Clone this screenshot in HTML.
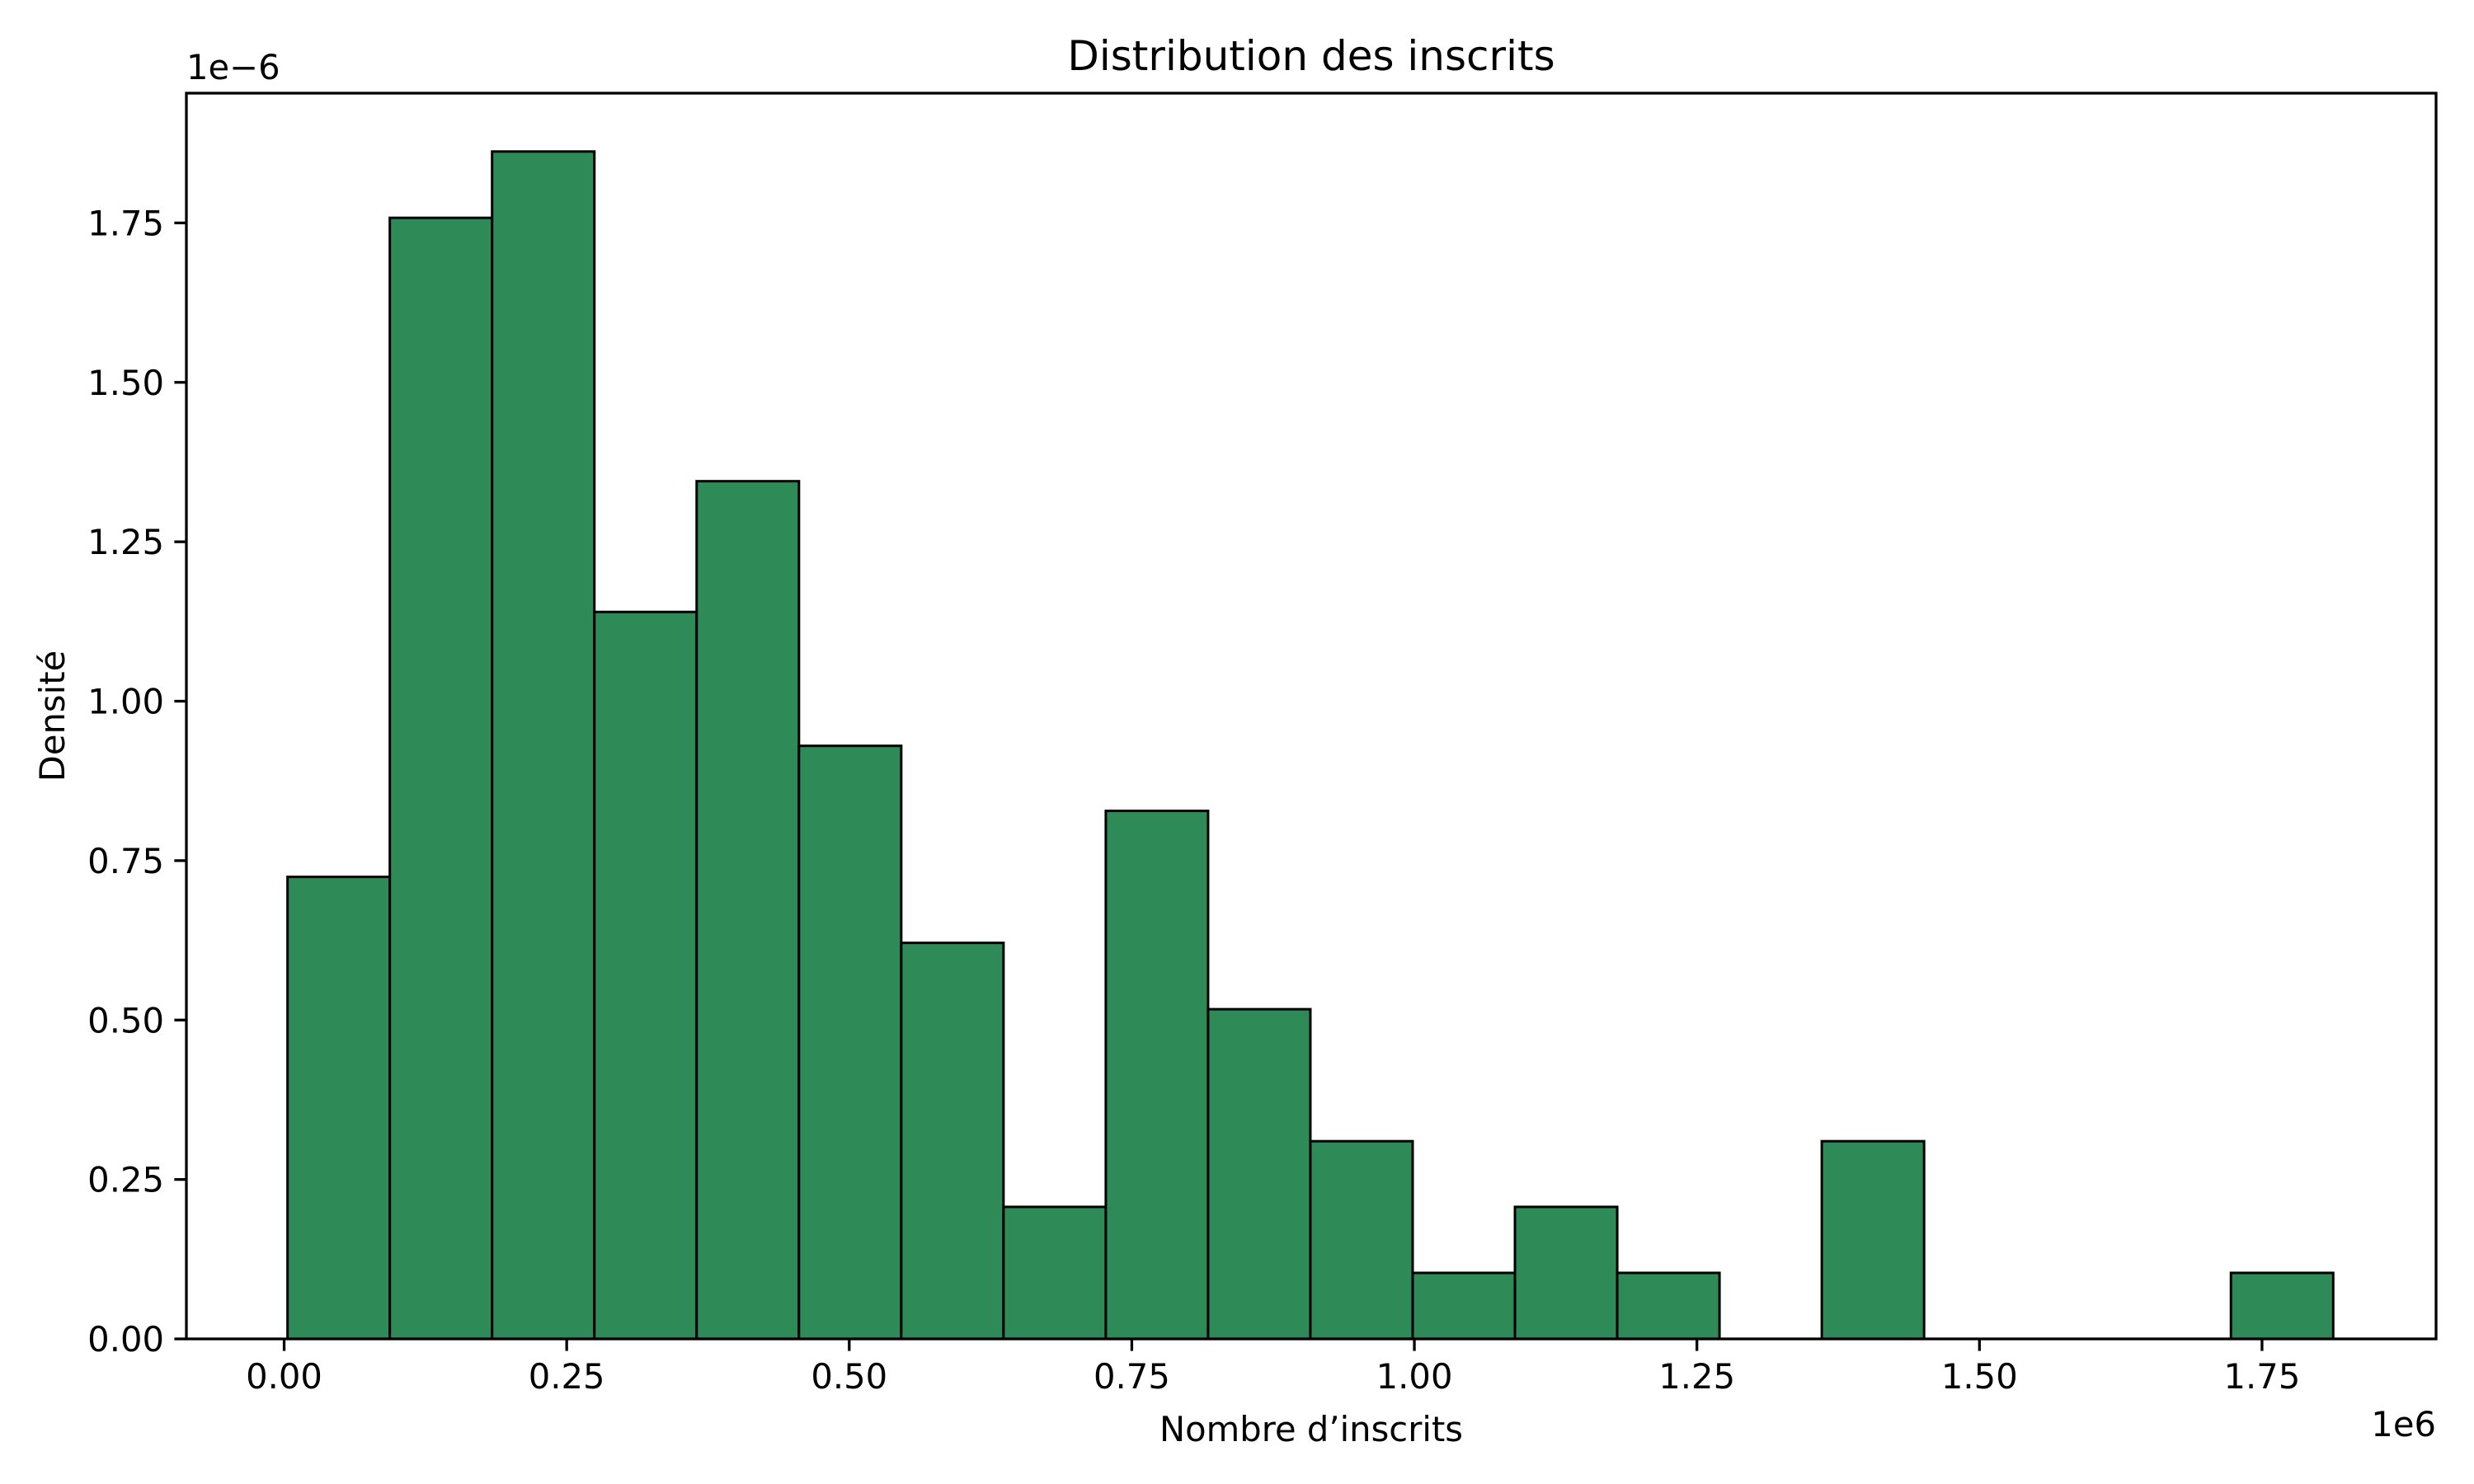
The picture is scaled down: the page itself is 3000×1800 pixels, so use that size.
<!DOCTYPE html>
<html><head><meta charset="utf-8"><style>
html,body{margin:0;padding:0;background:#fff;width:3000px;height:1800px;overflow:hidden}
svg{display:block;font-family:"DejaVu Sans","Liberation Sans",sans-serif}
</style></head><body>
<svg id="chart" width="3000" height="1800" viewBox="0 0 3000 1800" xmlns="http://www.w3.org/2000/svg"></svg>
<script>
const binStart = 0.003;
const binWidth = 0.0905;
const densities = [0.7245,1.758,1.862,1.140,1.345,0.930,0.621,0.207,0.828,0.517,0.310,0.1035,0.207,0.1035,0,0.310,0,0,0,0.1035];
const xTicks = [0,0.25,0.5,0.75,1.0,1.25,1.5,1.75];
const xTickLabels = ["0.00","0.25","0.50","0.75","1.00","1.25","1.50","1.75"];
const yTicks = [0,0.25,0.5,0.75,1.0,1.25,1.5,1.75];
const yTickLabels = ["0.00","0.25","0.50","0.75","1.00","1.25","1.50","1.75"];

const L=226,R=2954,T=113,B=1624;
const xMin=-0.0865,xMax=1.904,yMin=0,yMax=1.9535;
const sx=v=>L+(v-xMin)/(xMax-xMin)*(R-L);
const sy=v=>B-(v-yMin)/(yMax-yMin)*(B-T);
const svg=document.getElementById('chart');
const NS='http://www.w3.org/2000/svg';
function mk(tag,attrs,parent){const e=document.createElementNS(NS,tag);for(const k in attrs)e.setAttribute(k,attrs[k]);(parent||svg).appendChild(e);return e;}
function txt(s,attrs){const e=mk('text',attrs);e.textContent=s;return e;}

densities.forEach((d,i)=>{
  const x0=sx(binStart+i*binWidth),x1=sx(binStart+(i+1)*binWidth);
  const r=mk('rect',{x:x0,y:sy(d),width:x1-x0,height:sy(0)-sy(d),fill:'#2e8b57',stroke:'#000','stroke-width':3});
  
  
});
const frame=mk('rect',{x:L,y:T,width:R-L,height:B-T,fill:'none',stroke:'#000','stroke-width':3.3});



xTicks.forEach((v,i)=>{
  const x=sx(v);
  const t=mk('line',{x1:x,x2:x,y1:B,y2:B+14.6,stroke:'#000','stroke-width':3.3});
  
  
  const l=txt(xTickLabels[i],{x:x,y:B+60,'font-size':41.7,'text-anchor':'middle'});
  
  
});
yTicks.forEach((v,i)=>{
  const y=sy(v);
  const t=mk('line',{x1:L-14.6,x2:L,y1:y,y2:y,stroke:'#000','stroke-width':3.3});
  
  
  const l=txt(yTickLabels[i],{x:L-27,y:y+15,'font-size':41.7,'text-anchor':'end'});
  
  
});
const title=txt('Distribution des inscrits',{x:(L+R)/2,y:85,'font-size':50,'text-anchor':'middle'});


const xl=txt('Nombre d\u2019inscrits',{x:(L+R)/2,y:1748,'font-size':41.7,'text-anchor':'middle'});


const yl=txt('Densit\u00e9',{x:0,y:0,'font-size':41.7,'text-anchor':'middle',transform:'translate(78,' + ((T+B)/2) + ') rotate(-90)'});


const yo=txt('1e\u22126',{x:L,y:96,'font-size':41.7,'text-anchor':'start'});


const xo=txt('1e6',{x:R,y:1742,'font-size':41.7,'text-anchor':'end'});


</script>
</body></html>
